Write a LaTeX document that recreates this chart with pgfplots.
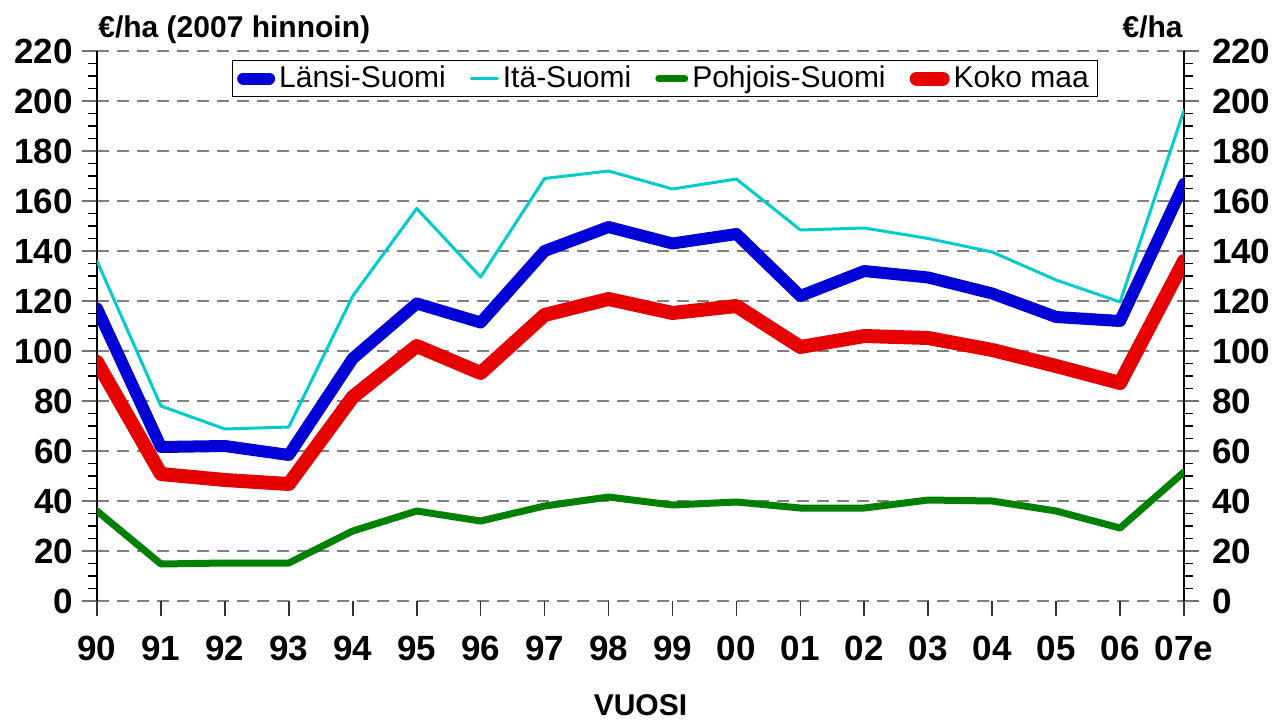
\documentclass[border=0pt]{standalone}
\usepackage{fontspec}
\setmainfont{Liberation Sans}
\usepackage{pgfplots}
\pgfplotsset{compat=1.18}
\definecolor{cblue}{RGB}{0,0,215}
\definecolor{ccyan}{RGB}{0,204,204}
\definecolor{cgreen}{RGB}{0,128,0}
\definecolor{cred}{RGB}{230,0,0}
\begin{document}
\begin{tikzpicture}
\path[use as bounding box] (-48.5pt,-59.5pt) rectangle (594.5pt,300.5pt);
\begin{axis}[
  scale only axis, width=543.5pt, height=275pt,
  xmin=0, xmax=17, ymin=0, ymax=220,
  xtick={0,...,17},
  xticklabels={90,91,92,93,94,95,96,97,98,99,00,01,02,03,04,05,06,07e},
  ytick={0,20,...,220},
  minor y tick num=3,
  tick align=outside,
  major tick length=7.5pt, minor tick length=4.5pt,
  ytick pos=both, xtick pos=bottom,
  separate axis lines,
  x axis line style={draw=none},
  y axis line style={black, line width=1pt},
  every major y tick/.append style={gray!90!black, line width=1pt},
  every minor y tick/.append style={black, line width=0.8pt},
  every major x tick/.append style={black!80, line width=0.8pt},
  ymajorgrids,
  major grid style={gray, line width=1pt, dash pattern=on 6pt off 4pt},
  /pgf/number format/assume math mode=true,
  tick label style={font=\fontsize{17.5}{19}\selectfont\bfseries},
  xticklabel style={yshift=-6.5pt},
  yticklabel style={xshift=-1pt},
  legend columns=4,
  legend style={at={(0.5225,0.95)}, anchor=center, draw=black, line width=0.6pt,
    font=\fontsize{15}{17}\selectfont, inner xsep=2.5pt, inner ysep=1pt,
    /tikz/every even column/.append style={column sep=10pt}},
  legend image code/.code={\draw[#1, line cap=round] (0pt,0pt) -- (13pt,0pt);},
  every axis plot/.append style={line cap=round, line join=round},
]
\addplot[cblue, line width=6pt] coordinates {
(0,117)(1,61.6)(2,62)(3,58.4)(4,97)(5,119)(6,111.4)(7,140)(8,149.6)(9,143)(10,146.8)(11,122)(12,132)(13,129.4)(14,123)(15,113.6)(16,112)(17,166.8)};
\addlegendentry{Länsi-Suomi}
\addplot[ccyan, line width=1.5pt] coordinates {
(0,136)(1,78)(2,68.8)(3,69.6)(4,122)(5,157)(6,129.6)(7,169)(8,172)(9,164.8)(10,168.8)(11,148.4)(12,149.2)(13,145)(14,139.6)(15,128.4)(16,119.6)(17,196.4)};
\addlegendentry{Itä-Suomi}
\addplot[cgreen, line width=3.5pt] coordinates {
(0,36)(1,14.8)(2,15.2)(3,15.2)(4,28)(5,36)(6,32)(7,38)(8,41.6)(9,38.4)(10,39.6)(11,37.2)(12,37.2)(13,40.4)(14,40)(15,36)(16,29.2)(17,51.6)};
\addlegendentry{Pohjois-Suomi}
\addplot[cred, line width=7pt] coordinates {
(0,95.6)(1,50.8)(2,48.4)(3,46.8)(4,81.6)(5,102)(6,91.2)(7,114.4)(8,120.8)(9,115.2)(10,118)(11,101.6)(12,106)(13,105.2)(14,100.4)(15,94)(16,87.2)(17,136)};
\addlegendentry{Koko maa}
\end{axis}
\begin{axis}[
  scale only axis, width=543.5pt, height=275pt,
  xmin=0, xmax=17, ymin=0, ymax=220,
  hide x axis,
  axis y line*=right,
  y axis line style={draw=none},
  ytick={0,20,...,220},
  tick align=outside, major tick length=7.5pt,
  ytick style={draw=none},
  /pgf/number format/assume math mode=true,
  tick label style={font=\fontsize{17.5}{19}\selectfont\bfseries},
  yticklabel style={xshift=3pt},
]
\addplot[draw=none] coordinates {(0,0)};
\end{axis}
\node[anchor=base west, font=\fontsize{15}{17}\selectfont\bfseries, inner sep=0pt] at (0.5pt,282pt) {€/ha (2007 hinnoin)};
\node[anchor=base east, font=\fontsize{15}{17}\selectfont\bfseries, inner sep=0pt] at (543pt,282pt) {€/ha};
\node[anchor=base, font=\fontsize{15}{17}\selectfont\bfseries, inner sep=0pt] at (271.75pt,-57pt) {VUOSI};
\end{tikzpicture}
\end{document}
